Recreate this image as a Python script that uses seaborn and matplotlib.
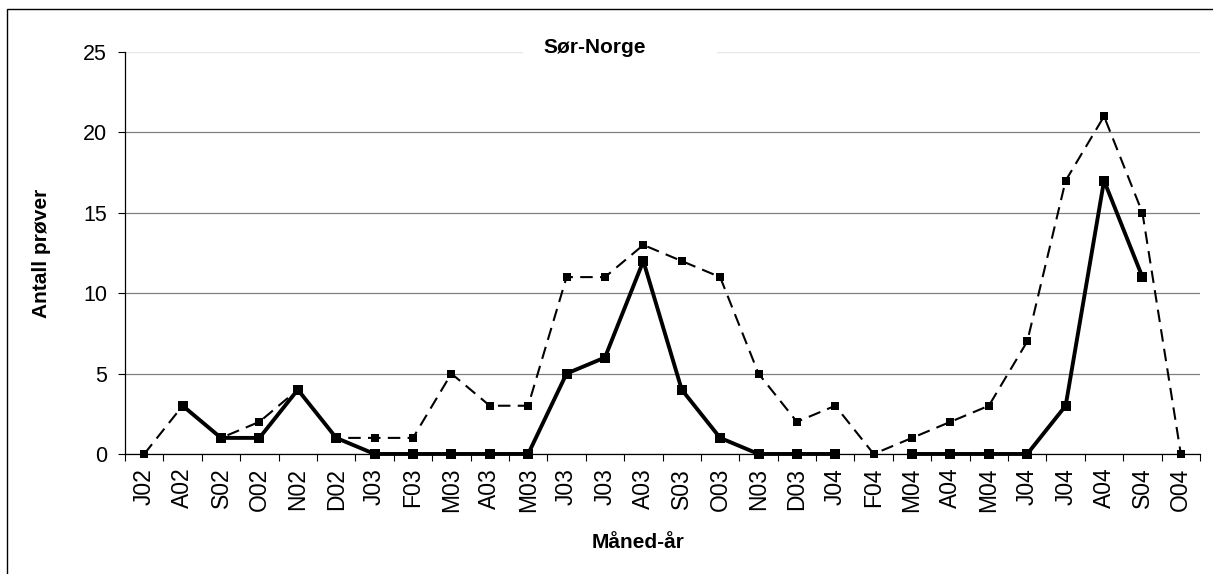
import numpy as np
import pandas as pd
import matplotlib
matplotlib.use('Agg')
import matplotlib.pyplot as plt
import seaborn as sns
from matplotlib.patches import Rectangle
from matplotlib.ticker import FixedLocator

months = ['J02', 'A02', 'S02', 'O02', 'N02', 'D02', 'J03', 'F03', 'M03', 'A03',
          'M03', 'J03', 'J03', 'A03', 'S03', 'O03', 'N03', 'D03', 'J04', 'F04',
          'M04', 'A04', 'M04', 'J04', 'J04', 'A04', 'S04', 'O04']
positive = [np.nan, 3, 1, 1, 4, 1, 0, 0, 0, 0,
            0, 5, 6, 12, 4, 1, 0, 0, 0, np.nan,
            0, 0, 0, 0, 3, 17, 11, np.nan]
total = [0, 3, 1, 2, 4, 1, 1, 1, 5, 3,
         3, 11, 11, 13, 12, 11, 5, 2, 3, 0,
         1, 2, 3, 7, 17, 21, 15, 0]
yticks = [0, 5, 10, 15, 20, 25]

df = pd.DataFrame({'pos': np.arange(len(months)), 'Month': months,
                   'Positive': positive, 'Total': total})
# break the solid line where values are missing
df['segment'] = df['Positive'].isna().cumsum()

sns.set_style('white')
plt.rcParams['font.family'] = ['Liberation Sans', 'DejaVu Sans']
plt.rcParams.update({'text.color': 'black', 'axes.labelcolor': 'black',
                     'xtick.color': 'black', 'ytick.color': 'black'})

fig = plt.figure(figsize=(12.13, 5.74), dpi=100)
ax = fig.add_axes([0.1031, 0.2091, 0.8862, 0.7003])

sns.lineplot(data=df, x='pos', y='Total', ax=ax, color='black', lw=1.5,
             linestyle=(0, (6, 3.5)), marker='s', markersize=6, markeredgewidth=0,
             estimator=None, zorder=3, clip_on=False)
sns.lineplot(data=df.dropna(subset=['Positive']), x='pos', y='Positive',
             units='segment', estimator=None, ax=ax, color='black', lw=2.8,
             marker='s', markersize=7.5, markeredgewidth=0, zorder=4, clip_on=False)

ax.set_xlim(-0.5, len(months) - 0.5)
ax.set_ylim(0, 25)
ax.set_yticks(yticks)
ax.set_xticks(df['pos'])
ax.set_xticklabels(months, rotation=90)
ax.xaxis.set_minor_locator(FixedLocator(np.arange(len(months) + 1) - 0.5))
ax.tick_params(axis='x', which='major', length=0, pad=10, labelsize=16.5)
ax.tick_params(axis='x', which='minor', length=5, width=0.8, color='black',
               direction='out', bottom=True)
ax.tick_params(axis='y', length=5, width=0.8, color='black', direction='out',
               left=True, pad=8, labelsize=15.5)

ax.yaxis.grid(True, color='#808080', lw=0.9)
ax.yaxis.get_gridlines()[-1].set_color('#e6e6e6')
ax.set_axisbelow(True)
for s in ['top', 'right']:
    ax.spines[s].set_visible(False)
for s in ['left', 'bottom']:
    ax.spines[s].set_color('black')
    ax.spines[s].set_linewidth(0.9)

ax.set_xlabel('Måned-år', fontsize=15, fontweight='bold')
ax.xaxis.set_label_coords(0.477, -0.197)
ax.set_ylabel('Antall prøver', fontsize=15, fontweight='bold')
ax.yaxis.set_label_coords(-0.069, 0.5)

ax.add_patch(Rectangle((0.370, 0.975), 0.181, 0.05, transform=ax.transAxes,
                       facecolor='white', edgecolor='none', clip_on=False, zorder=2))
ax.text(0.437, 1.012, 'Sør-Norge', transform=ax.transAxes, ha='center', va='center',
        fontsize=15, fontweight='bold', zorder=5)

# outer chart frame
fig.add_artist(Rectangle((7 / 1213, -0.5), 2, 1.5 - 9 / 574, transform=fig.transFigure,
                         facecolor='none', edgecolor='black', lw=1))

fig.savefig('out.png', dpi=100)
